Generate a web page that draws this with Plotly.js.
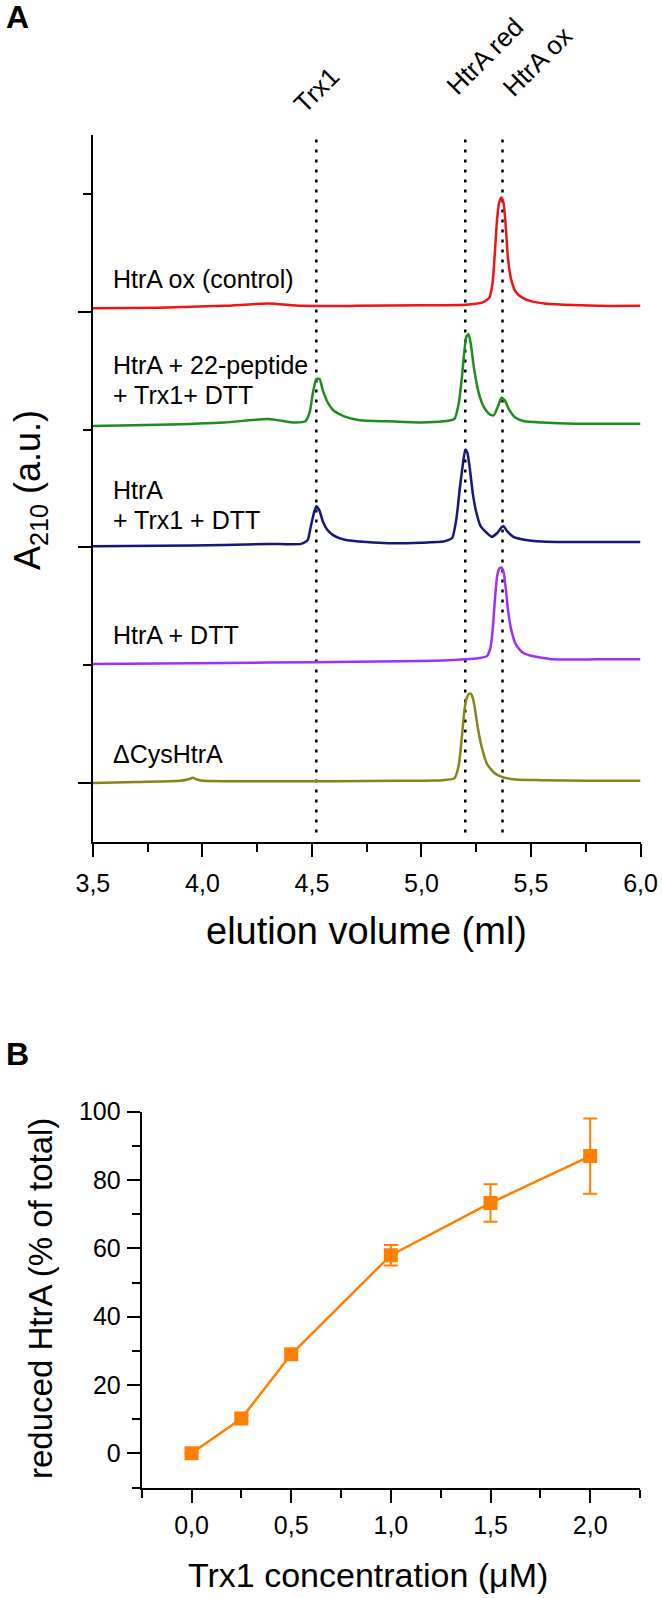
<!DOCTYPE html>
<html><head><meta charset="utf-8">
<script src="https://cdn.plot.ly/plotly-3.0.1.min.js"></script>
<style>html,body{margin:0;padding:0;background:#fff}</style>
</head><body><div id="chart" style="width:662px;height:1598px"></div>
<script>
// ---------- Panel A: chromatograms (elution volume in ml, A210 offset traces) ----------
const oxCtrlX = [3.5, 3.8, 4.1, 4.3, 4.45, 4.7, 5.0, 5.2, 5.28, 5.31, 5.325, 5.335, 5.345, 5.355, 5.365, 5.375, 5.385, 5.395, 5.41, 5.43, 5.46, 5.5, 5.56, 5.65, 5.8, 6.0];
const oxCtrlY = [4.03, 4.035, 4.05, 4.07, 4.05, 4.05, 4.055, 4.06, 4.08, 4.12, 4.25, 4.5, 4.78, 4.93, 4.97, 4.92, 4.72, 4.45, 4.27, 4.17, 4.12, 4.09, 4.07, 4.06, 4.05, 4.05];

const peptideX = [3.5, 3.8, 4.1, 4.3, 4.42, 4.47, 4.49, 4.505, 4.52, 4.535, 4.55, 4.575, 4.6, 4.65, 4.72, 4.85, 5.0, 5.1, 5.15, 5.17, 5.185, 5.195, 5.205, 5.215, 5.225, 5.24, 5.26, 5.285, 5.31, 5.33, 5.35, 5.365, 5.38, 5.4, 5.43, 5.47, 5.55, 5.7, 6.0];
const peptideY = [3.03, 3.04, 3.06, 3.09, 3.06, 3.07, 3.15, 3.32, 3.43, 3.43, 3.33, 3.22, 3.16, 3.11, 3.08, 3.07, 3.06, 3.07, 3.09, 3.22, 3.45, 3.65, 3.79, 3.81, 3.73, 3.52, 3.32, 3.19, 3.13, 3.12, 3.2, 3.27, 3.25, 3.17, 3.1, 3.07, 3.06, 3.05, 3.05];

const trxDttX = [3.5, 3.8, 4.1, 4.3, 4.45, 4.48, 4.495, 4.51, 4.52, 4.535, 4.55, 4.57, 4.6, 4.65, 4.75, 4.85, 5.0, 5.1, 5.14, 5.16, 5.175, 5.19, 5.2, 5.21, 5.22, 5.235, 5.25, 5.27, 5.3, 5.32, 5.345, 5.365, 5.375, 5.39, 5.42, 5.47, 5.55, 5.7, 6.0];
const trxDttY = [2.01, 2.015, 2.02, 2.03, 2.03, 2.06, 2.18, 2.3, 2.35, 2.31, 2.22, 2.15, 2.1, 2.065, 2.045, 2.035, 2.04, 2.05, 2.08, 2.25, 2.5, 2.72, 2.83, 2.8, 2.68, 2.45, 2.3, 2.18, 2.12, 2.09, 2.12, 2.17, 2.18, 2.14, 2.09, 2.065, 2.05, 2.045, 2.045];

const dttX = [3.5, 3.8, 4.1, 4.5, 4.9, 5.1, 5.2, 5.26, 5.3, 5.315, 5.325, 5.335, 5.345, 5.355, 5.365, 5.375, 5.385, 5.395, 5.41, 5.43, 5.46, 5.5, 5.6, 5.8, 6.0];
const dttY = [1.01, 1.015, 1.02, 1.025, 1.035, 1.04, 1.05, 1.06, 1.08, 1.15, 1.3, 1.55, 1.75, 1.82, 1.83, 1.79, 1.65, 1.47, 1.3, 1.18, 1.11, 1.08, 1.05, 1.05, 1.05];

const dCysX = [3.5, 3.7, 3.9, 3.94, 3.956, 3.975, 4.0, 4.3, 4.6, 4.9, 5.1, 5.15, 5.17, 5.185, 5.195, 5.205, 5.215, 5.225, 5.235, 5.245, 5.26, 5.28, 5.3, 5.33, 5.37, 5.43, 5.55, 5.75, 6.0];
const dCysY = [0.0, 0.01, 0.02, 0.035, 0.045, 0.03, 0.02, 0.015, 0.015, 0.02, 0.025, 0.04, 0.15, 0.4, 0.6, 0.71, 0.755, 0.76, 0.72, 0.62, 0.44, 0.27, 0.16, 0.09, 0.05, 0.03, 0.025, 0.02, 0.02];

const traceColors = ['#f01414', '#1f8c1f', '#16167c', '#9b30ff', '#858518'];
const traceLabelLines = [['HtrA ox (control)'], ['HtrA + 22-peptide', '+ Trx1+ DTT'], ['HtrA', '+ Trx1 + DTT'], ['HtrA + DTT'], ['\u0394CysHtrA']];
const peakNames = ['Trx1', 'HtrA red', 'HtrA ox'];
const peakPositions = [4.52, 5.20, 5.37];
const guideRange = [-0.42, 5.5];

// ---------- Panel B: reduced HtrA vs Trx1 concentration ----------
const trxConc = [0, 0.25, 0.5, 1.0, 1.5, 2.0];
const reducedPct = [0, 10.2, 29, 58, 73.3, 87];
const reducedErr = [0, 0.8, 1.5, 3, 5.5, 11];

// ---------- build ----------
const W = 662, H = 1598;
const fx = p => p / W;
const fy = p => 1 - p / H;
const FONT = 'Liberation Sans, Arial, sans-serif';

const seriesX = [oxCtrlX, peptideX, trxDttX, dttX, dCysX];
const seriesY = [oxCtrlY, peptideY, trxDttY, dttY, dCysY];

const data = [];
peakPositions.forEach(p => {
  data.push({x: [p, p], y: guideRange, xaxis: 'x', yaxis: 'y', mode: 'lines',
    line: {color: '#000', width: 2.5, dash: '3px,7px'}, hoverinfo: 'skip'});
});
seriesX.forEach((xs, i) => {
  data.push({x: xs, y: seriesY[i], xaxis: 'x', yaxis: 'y', mode: 'lines',
    line: {color: traceColors[i], width: 2.5, shape: 'spline', smoothing: 0.5}});
});
data.push({x: trxConc, y: reducedPct, xaxis: 'x2', yaxis: 'y2', mode: 'lines+markers',
  line: {color: '#ff7f00', width: 2.5},
  marker: {symbol: 'square', size: 14, color: '#ff7f00'},
  error_y: {type: 'data', array: reducedErr, visible: true, color: '#ff7f00', thickness: 2, width: 7}});

const axBase = {showline: true, linecolor: '#000', linewidth: 2, ticks: 'outside', ticklen: 13,
  tickwidth: 2, tickcolor: '#000', showgrid: false, zeroline: false,
  tickfont: {family: FONT, size: 25, color: '#000'}};

const annotations = [];
// panel letters
annotations.push({text: 'A', x: fx(17), y: fy(17), xref: 'paper', yref: 'paper', showarrow: false,
  xanchor: 'center', yanchor: 'middle', font: {family: FONT, size: 32, weight: 'bold', color: '#000'}});
annotations.push({text: 'B', x: fx(17), y: fy(1054), xref: 'paper', yref: 'paper', showarrow: false,
  xanchor: 'center', yanchor: 'middle', font: {family: FONT, size: 32, weight: 'bold', color: '#000'}});
// peak names, rotated
const peakLabelPos = [[316.5, 90], [485, 56], [537, 62]];
peakNames.forEach((t, i) => {
  annotations.push({text: t, x: fx(peakLabelPos[i][0]), y: fy(peakLabelPos[i][1]), xref: 'paper', yref: 'paper',
    showarrow: false, textangle: -45, xanchor: 'center', yanchor: 'middle',
    font: {family: FONT, size: 26, color: '#000'}});
});
// trace labels
const labelLineY = [[279], [365, 395], [490, 519.5], [634.7], [753.8]];
traceLabelLines.forEach((lines, i) => {
  lines.forEach((t, j) => {
    annotations.push({text: t, x: fx(111), y: fy(labelLineY[i][j]), xref: 'paper', yref: 'paper',
      showarrow: false, xanchor: 'left', yanchor: 'middle', font: {family: FONT, size: 25, color: '#000'}});
  });
});
// axis titles
annotations.push({text: 'A<sub>210</sub> (a.u.)', x: fx(30), y: fy(490), xref: 'paper', yref: 'paper',
  showarrow: false, textangle: -90, xanchor: 'center', yanchor: 'middle', font: {family: FONT, size: 36, color: '#000'}});
annotations.push({text: 'elution volume (ml)', x: fx(366.7), y: fy(931), xref: 'paper', yref: 'paper',
  showarrow: false, xanchor: 'center', yanchor: 'middle', font: {family: FONT, size: 38, color: '#000'}});
annotations.push({text: 'reduced HtrA (% of total)', x: fx(40), y: fy(1299), xref: 'paper', yref: 'paper',
  showarrow: false, textangle: -90, xanchor: 'center', yanchor: 'middle', font: {family: FONT, size: 33, color: '#000'}});
annotations.push({text: 'Trx1 concentration (\u03bcM)', x: fx(368), y: fy(1575), xref: 'paper', yref: 'paper',
  showarrow: false, xanchor: 'center', yanchor: 'middle', font: {family: FONT, size: 34, color: '#000'}});

const layout = {
  width: W, height: H, margin: {l: 0, r: 0, t: 0, b: 0},
  paper_bgcolor: '#fff', plot_bgcolor: '#fff', showlegend: false,
  separators: ', ',
  font: {family: FONT, color: '#000'},
  xaxis: Object.assign({}, axBase, {domain: [fx(92.9), fx(640.5)], anchor: 'y', range: [3.5, 6.0],
    tick0: 3.5, dtick: 0.5, tickformat: '.1f', ticklabelstandoff: 5,
    minor: {ticks: 'outside', tick0: 3.5, dtick: 0.25, ticklen: 8, tickwidth: 2, tickcolor: '#000', showgrid: false}}),
  yaxis: Object.assign({}, axBase, {domain: [fy(842), fy(135)], anchor: 'x', range: [-0.5, 5.5],
    tick0: 0, dtick: 2, showticklabels: false,
    minor: {ticks: 'outside', tick0: 0, dtick: 1, ticklen: 8, tickwidth: 2, tickcolor: '#000', showgrid: false}}),
  xaxis2: Object.assign({}, axBase, {domain: [fx(141.7), fx(640)], anchor: 'y2', range: [-0.25, 2.25],
    tick0: 0, dtick: 0.5, tickformat: '.1f', ticklabelstandoff: 1,
    minor: {ticks: 'outside', tick0: 0, dtick: 0.25, ticklen: 8, tickwidth: 2, tickcolor: '#000', showgrid: false}}),
  yaxis2: Object.assign({}, axBase, {domain: [fy(1487.5), fy(1111.7)], anchor: 'x2', range: [-10, 100],
    tick0: 0, dtick: 20, ticklabelstandoff: 1,
    minor: {ticks: 'outside', tick0: 0, dtick: 10, ticklen: 8, tickwidth: 2, tickcolor: '#000', showgrid: false}}),
  annotations: annotations
};

Plotly.newPlot('chart', data, layout, {staticPlot: true, displayModeBar: false});
</script></body></html>
